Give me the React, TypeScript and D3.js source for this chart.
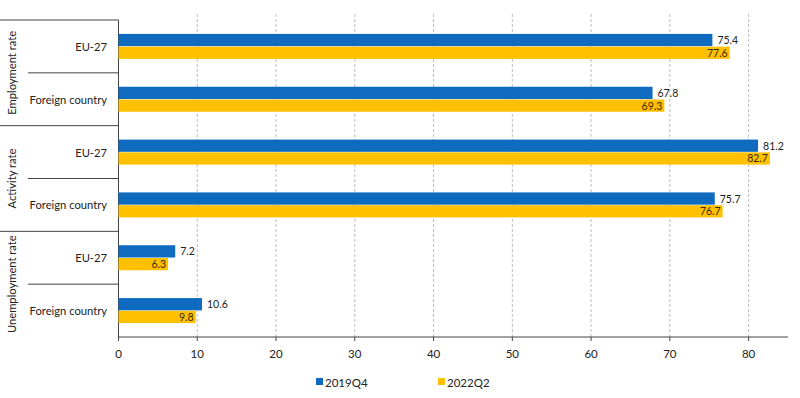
import * as d3 from "d3"

const groups = ["Employment rate", "Activity rate", "Unemployment rate"]
const subCategories = ["EU-27", "Foreign country"]
const seriesNames = ["2019Q4", "2022Q2"]
const values2019Q4 = [75.4, 67.8, 81.2, 75.7, 7.2, 10.6]
const values2022Q2 = [77.6, 69.3, 82.7, 76.7, 6.3, 9.8]
const xTicks = [0, 10, 20, 30, 40, 50, 60, 70, 80]

const colors = ["#0F6BBF", "#FFC000"]
const font = "Lato, 'Open Sans', sans-serif"

const App = () => {
  const width = 800
  const height = 398
  const left = 118.5
  const right = 788
  const top = 20
  const bottom = 337

  const rows = groups.flatMap(g => subCategories.map(s => `${g}|${s}`))

  const x = d3.scaleLinear().domain([0, 85]).range([left, right])
  const y = d3.scaleBand().domain(rows).range([top, bottom])
  const inner = d3
    .scaleBand()
    .domain(seriesNames)
    .range([y.bandwidth() / 2 - 12.5, y.bandwidth() / 2 + 12.5])
    .paddingInner(0.04)

  const groupBand = (bottom - top) / groups.length

  return (
    <svg
      width={width}
      height={height}
      style={{ position: "absolute", left: 0, top: 0, fontFamily: font }}
    >
      <rect width={width} height={height} fill="#fff" />
      {/* gridlines */}
      {xTicks.slice(1).map(t => (
        <line
          key={t}
          x1={x(t)}
          x2={x(t)}
          y1={14}
          y2={bottom}
          stroke="#bdbdbd"
          strokeDasharray="3,2"
          strokeWidth={1}
        />
      ))}
      {/* left box */}
      <line x1={0} x2={left} y1={top} y2={top} stroke="#444" />
      <line x1={left} x2={left} y1={top} y2={bottom + 4} stroke="#444" />
      {groups.map((g, i) => {
        const gy = top + i * groupBand
        return (
          <g key={g}>
            {i > 0 && <line x1={0} x2={left} y1={gy} y2={gy} stroke="#444" />}
            <line
              x1={28}
              x2={left}
              y1={gy + groupBand / 2}
              y2={gy + groupBand / 2}
              stroke="#444"
            />
            <text
              transform={`translate(11,${gy + groupBand / 2}) rotate(-90)`}
              textAnchor="middle"
              dominantBaseline="central"
              fontSize={11.2}
              fill="#222"
            >
              {g}
            </text>
          </g>
        )
      })}
      {/* category labels */}
      {rows.map(r => (
        <text
          key={r}
          x={107}
          y={(y(r) ?? 0) + y.bandwidth() / 2}
          textAnchor="end"
          dominantBaseline="central"
          fontSize={11.2}
          fill="#222"
        >
          {r.split("|")[1]}
        </text>
      ))}
      {/* bars */}
      {rows.map((r, i) => {
        const by = y(r) ?? 0
        const v1 = values2019Q4[i]
        const v2 = values2022Q2[i]
        const y1 = by + (inner("2019Q4") ?? 0)
        const y2 = by + (inner("2022Q2") ?? 0)
        const bh = inner.bandwidth()
        return (
          <g key={r}>
            <rect x={x(0)} y={y1} width={x(v1) - x(0)} height={bh} fill={colors[0]} />
            <rect x={x(0)} y={y2} width={x(v2) - x(0)} height={bh} fill={colors[1]} />
            <text
              x={x(v1) + 5}
              y={y1 + bh / 2}
              dominantBaseline="central"
              fontSize={10.5}
              fill="#222"
            >
              {v1.toFixed(1)}
            </text>
            <text
              x={x(v2) - 2}
              y={y2 + bh / 2}
              textAnchor="end"
              dominantBaseline="central"
              fontSize={10.5}
              fill="#3a2a00"
            >
              {v2.toFixed(1)}
            </text>
          </g>
        )
      })}
      {/* x axis */}
      <line x1={left} x2={right} y1={bottom} y2={bottom} stroke="#444" />
      {xTicks.map(t => (
        <g key={t}>
          <line x1={x(t)} x2={x(t)} y1={bottom} y2={bottom + 4} stroke="#444" />
          <text
            x={x(t)}
            y={353}
            textAnchor="middle"
            dominantBaseline="central"
            fontSize={11.5}
            fill="#222"
          >
            {t}
          </text>
        </g>
      ))}
      {/* legend */}
      {seriesNames.map((s, i) => {
        const lx = i === 0 ? 316 : 438
        return (
          <g key={s}>
            <rect x={lx} y={378} width={7} height={7} fill={colors[i]} />
            <text x={lx + 9} y={382} dominantBaseline="central" fontSize={11.5} fill="#222">
              {s}
            </text>
          </g>
        )
      })}
    </svg>
  )
}

export default App
